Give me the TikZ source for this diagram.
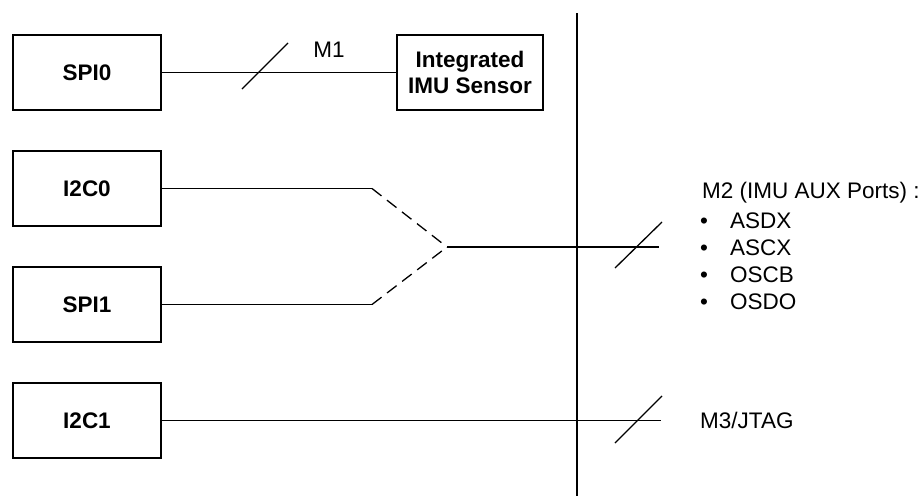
\documentclass[tikz,border=0pt]{standalone}
\usepackage{fontspec}
\setmainfont{Liberation Sans}
\begin{document}
\begin{tikzpicture}[x=1pt,y=-1pt,
  blk/.style={draw,line width=2pt,minimum width=148pt,minimum height=75pt,inner sep=0pt,
    font=\fontsize{22.5}{26}\selectfont\bfseries,align=center},
  wire/.style={line width=1.3pt},
  dwire/.style={line width=1.3pt,dash pattern=on 12pt off 7pt},
  lbl/.style={inner sep=0pt,font=\fontsize{22.5}{27}\selectfont}
]
\useasboundingbox (0,0) rectangle (923,496);
% blocks
\node[blk] (spi0) at (87,72.5) {SPI0};
\node[blk,minimum width=146pt] (imu) at (470,72.5) {Integrated\\IMU Sensor};
\node[blk] (i2c0) at (87,188.5) {I2C0};
\node[blk] (spi1) at (87,304.5) {SPI1};
\node[blk] (i2c1) at (87,420.5) {I2C1};
% coordinates
\coordinate (top) at (577,13);
\coordinate (bot) at (577,496);
\coordinate (b0) at (372,188.5);
\coordinate (b1) at (372,304.5);
\coordinate (j) at (447,247);
\coordinate (m2end) at (659,247);
\coordinate (m3end) at (661,420.5);
% divider
\draw[wire] (top) -- (bot);
% M1
\draw[wire] (spi0) -- (imu);
\draw[wire] (242,89) -- (288,43);
\node[lbl] (m1) at (329,49.5) {M1};
% M2
\draw[wire] (i2c0.east) -- (b0);
\draw[dwire] (b0) -- (j);
\draw[wire] (spi1.east) -- (b1);
\draw[dwire] (b1) -- (j);
\draw[wire] (j) -- (m2end);
\draw[wire] (615,268) -- (662,222);
\node[lbl,anchor=base west] (m2t) at (702,198.5) {M2 (IMU AUX Ports) :};
\node[lbl,anchor=base west] (m2a) at (700,228.5) {\makebox[30pt][l]{•}ASDX};
\node[lbl,anchor=base west] (m2b) at (700,255.5) {\makebox[30pt][l]{•}ASCX};
\node[lbl,anchor=base west] (m2c) at (700,282.5) {\makebox[30pt][l]{•}OSCB};
\node[lbl,anchor=base west] (m2d) at (700,309.5) {\makebox[30pt][l]{•}OSDO};
% M3
\draw[wire] (i2c1) -- (m3end);
\draw[wire] (615,443) -- (662,396);
\node[lbl,anchor=west] (m3) at (700,420) {M3/JTAG};
\end{tikzpicture}
\end{document}
